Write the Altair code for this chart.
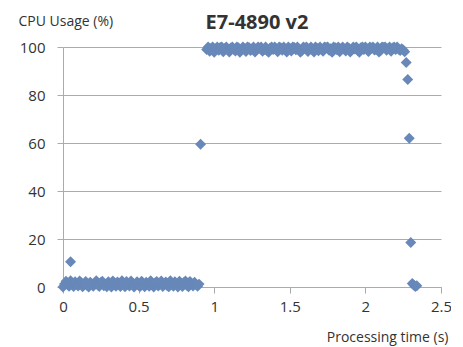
import altair as alt
import pandas as pd

# Idle phase samples (time s, CPU %)
low_t = [0.00, 0.01, 0.02, 0.03, 0.04, 0.05, 0.06, 0.07, 0.08, 0.09,
         0.10, 0.11, 0.12, 0.13, 0.14, 0.15, 0.16, 0.17, 0.18, 0.19,
         0.20, 0.21, 0.22, 0.23, 0.24, 0.25, 0.26, 0.27, 0.28, 0.29,
         0.30, 0.31, 0.32, 0.33, 0.34, 0.35, 0.36, 0.37, 0.38, 0.39,
         0.40, 0.41, 0.42, 0.43, 0.44, 0.45, 0.46, 0.47, 0.48, 0.49,
         0.50, 0.51, 0.52, 0.53, 0.54, 0.55, 0.56, 0.57, 0.58, 0.59,
         0.60, 0.61, 0.62, 0.63, 0.64, 0.65, 0.66, 0.67, 0.68, 0.69,
         0.70, 0.71, 0.72, 0.73, 0.74, 0.75, 0.76, 0.77, 0.78, 0.79,
         0.80, 0.81, 0.82, 0.83, 0.84, 0.85, 0.86, 0.87, 0.88, 0.89, 0.90]
low_v = [0.0, 1.2, 2.4, 1.0, 0.3, 2.6, 1.5, 0.2, 2.2, 1.1,
         0.4, 2.5, 1.8, 0.1, 1.3, 2.3, 0.6, 0.0, 2.0, 1.4,
         0.3, 1.1, 2.6, 0.8, 0.2, 1.9, 2.4, 0.5, 1.2, 0.1,
         2.2, 1.0, 0.0, 2.5, 1.6, 0.3, 2.1, 0.9, 0.2, 2.6,
         1.4, 0.1, 2.3, 1.0, 0.4, 2.5, 1.7, 0.0, 1.1, 2.2,
         0.6, 0.2, 2.4, 1.3, 0.1, 2.0, 1.5, 0.3, 2.6, 0.9,
         0.0, 1.8, 2.3, 0.4, 1.2, 2.5, 0.2, 1.0, 2.1, 0.5,
         0.1, 2.6, 1.4, 0.3, 2.2, 1.1, 0.0, 2.4, 1.6, 0.2,
         1.9, 2.5, 0.6, 0.1, 2.3, 1.2, 0.4, 2.0, 1.0, 0.3, 1.2]

# Busy phase samples
high_t = [0.95, 0.96, 0.97, 0.98, 0.99, 1.00, 1.01, 1.02, 1.03, 1.04,
          1.05, 1.06, 1.07, 1.08, 1.09, 1.10, 1.11, 1.12, 1.13, 1.14,
          1.15, 1.16, 1.17, 1.18, 1.19, 1.20, 1.21, 1.22, 1.23, 1.24,
          1.25, 1.26, 1.27, 1.28, 1.29, 1.30, 1.31, 1.32, 1.33, 1.34,
          1.35, 1.36, 1.37, 1.38, 1.39, 1.40, 1.41, 1.42, 1.43, 1.44,
          1.45, 1.46, 1.47, 1.48, 1.49, 1.50, 1.51, 1.52, 1.53, 1.54,
          1.55, 1.56, 1.57, 1.58, 1.59, 1.60, 1.61, 1.62, 1.63, 1.64,
          1.65, 1.66, 1.67, 1.68, 1.69, 1.70, 1.71, 1.72, 1.73, 1.74,
          1.75, 1.76, 1.77, 1.78, 1.79, 1.80, 1.81, 1.82, 1.83, 1.84,
          1.85, 1.86, 1.87, 1.88, 1.89, 1.90, 1.91, 1.92, 1.93, 1.94,
          1.95, 1.96, 1.97, 1.98, 1.99, 2.00, 2.01, 2.02, 2.03, 2.04,
          2.05, 2.06, 2.07, 2.08, 2.09, 2.10, 2.11, 2.12, 2.13, 2.14,
          2.15, 2.16, 2.17, 2.18, 2.19, 2.20, 2.21, 2.22, 2.23, 2.24, 2.25]
high_v = [99.0, 100, 98.2, 99.5, 100, 97.8, 99.2, 100, 98.6, 99.8,
          100, 98.0, 99.4, 100, 98.8, 97.9, 99.6, 100, 99.1, 98.3,
          100, 99.7, 97.8, 98.9, 100, 99.3, 98.1, 100, 99.8, 98.5,
          99.2, 100, 97.9, 98.7, 100, 99.5, 100, 98.2, 99.0, 100,
          98.4, 97.8, 99.6, 100, 98.9, 100, 99.3, 98.0, 100, 99.7,
          98.6, 100, 99.1, 97.9, 100, 99.4, 98.3, 100, 99.8, 98.8,
          100, 99.2, 97.8, 98.5, 100, 99.6, 100, 98.1, 99.3, 100,
          98.7, 97.9, 100, 99.5, 98.4, 100, 99.0, 98.2, 100, 99.8,
          100, 98.6, 99.3, 97.8, 100, 99.7, 98.9, 100, 98.0, 99.4,
          100, 99.1, 98.3, 100, 99.6, 97.9, 98.8, 100, 99.2, 100,
          98.5, 97.8, 99.7, 100, 98.9, 100, 99.3, 98.1, 100, 99.5,
          100, 98.7, 99.0, 100, 97.9, 98.4, 100, 99.8, 100, 98.6,
          99.4, 100, 98.2, 99.6, 100, 98.9, 100, 99.1, 98.5, 99.3, 98.8]

# Transition / isolated samples
other_t = [0.05, 0.91, 2.26, 2.27, 2.28, 2.29, 2.30, 2.31, 2.32, 2.33, 2.34]
other_v = [10.5, 59.5, 98.0, 93.5, 86.5, 62.0, 18.5, 1.5, 0.8, 0.2, 0.5]

x_ticks = [0, 0.5, 1, 1.5, 2, 2.5]
y_ticks = [0, 20, 40, 60, 80, 100]

df = pd.DataFrame({
    "t": low_t + high_t + other_t,
    "cpu": low_v + high_v + other_v,
})

FONT = "Open Sans"
GRID = "#ababab"
TXT = "#333333"

chart = alt.Chart(df).mark_point(
    shape="diamond", filled=True, size=120, color="#6788b8", opacity=1
).encode(
    x=alt.X("t:Q", scale=alt.Scale(domain=[0, 2.5], nice=False),
            axis=alt.Axis(values=x_ticks, format=".1~f", grid=False,
                          labelFlush=False,
                          domainColor=GRID, tickColor=GRID, tickSize=6,
                          labelPadding=6, labelFontSize=15, labelColor=TXT,
                          labelFont=FONT,
                          title="Processing time (s)", titleFont=FONT,
                          titleFontSize=14, titleFontWeight="normal",
                          titleColor=TXT, titleAlign="right",
                          titleBaseline="alphabetic", titleX=385, titleY=54)),
    y=alt.Y("cpu:Q", scale=alt.Scale(domain=[0, 100], nice=False),
            axis=alt.Axis(values=y_ticks, grid=True, gridColor=GRID,
                          domainColor=GRID, tickColor=GRID, tickSize=6,
                          labelPadding=12, labelFontSize=15, labelColor=TXT,
                          labelFont=FONT,
                          title="CPU Usage (%)", titleFont=FONT,
                          titleFontSize=14, titleFontWeight="normal",
                          titleColor=TXT, titleAngle=0, titleAlign="left",
                          titleBaseline="alphabetic", titleX=-45, titleY=-22)),
).properties(
    width=378,
    height=240,
    title=alt.TitleParams("E7-4890 v2", font=FONT, fontSize=20,
                          fontWeight="bold", color=TXT, anchor="middle",
                          baseline="alphabetic", offset=0, dy=35, dx=5),
    autosize=alt.AutoSizeParams(type="none"),
    padding={"left": 55, "top": 39, "right": 10, "bottom": 60},
).configure_view(stroke=None)

chart.save("out.html", embed_options={"renderer": "svg", "actions": False})
